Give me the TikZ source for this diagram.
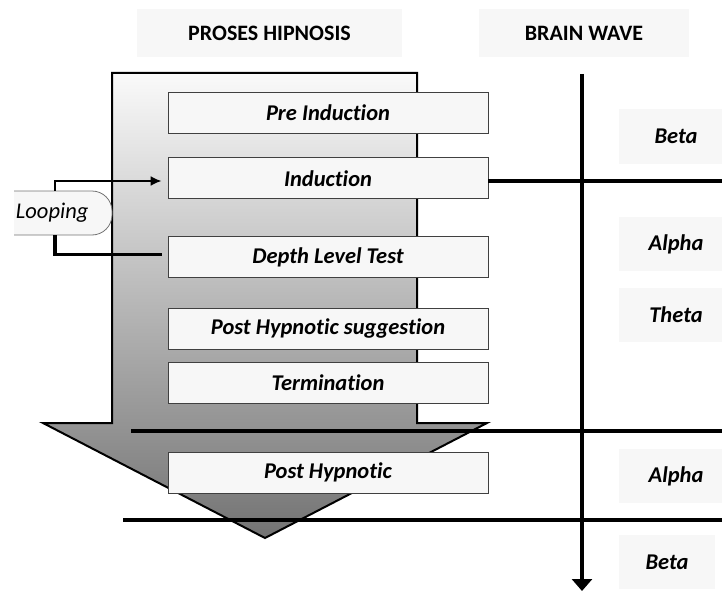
\documentclass[tikz,border=0pt]{standalone}
\usepackage{fontspec}
\setmainfont{Carlito}[Ligatures=NoCommon]
\usetikzlibrary{arrows.meta,positioning}

\begin{document}
\begin{tikzpicture}[
  x=1pt, y=-1pt,
  headbox/.style={rectangle, fill=black!3, minimum height=48pt, inner sep=0pt,
              font=\fontsize{22}{26}\selectfont\bfseries},
  stagebox/.style={rectangle, draw=black!75, line width=0.8pt, fill=black!3,
              minimum width=320pt, minimum height=41pt, inner sep=0pt,
              font=\fontsize{22.5}{26}\selectfont\bfseries\itshape},
  wavebox/.style={rectangle, fill=black!3, minimum width=114pt, minimum height=54pt,
              inner sep=0pt, font=\fontsize{22.5}{26}\selectfont\bfseries\itshape},
  looptext/.style={rectangle, minimum width=98pt, minimum height=44pt, text width=94pt,
              inner xsep=1pt, align=left, font=\fontsize{22.5}{26}\selectfont\itshape},
  loopshape/.style={fill=black!3, draw=black!55, line width=0.8pt, rounded corners=20pt},
  bigarrow/.style={top color=black!2, middle color=black!16, bottom color=black!55,
              draw=black, line width=2pt},
  sepline/.style={line width=4pt},
  arr/.style={-{Latex[length=11pt,width=10pt]}, line width=2pt}
]
\useasboundingbox (0,0) rectangle (722,591);
% headers
\node[headbox, minimum width=265pt] (hproc) at (269.5,33) {PROSES HIPNOSIS};
\node[headbox, minimum width=210pt] (hwave) at (584,33) {BRAIN WAVE};
% process arrow
\shade[bigarrow] (112,73) -- (417,73) -- (417,423) -- (487,423) -- (265,538)
  -- (43,423) -- (112,423) -- cycle;
% stages
\node[stagebox] (pre) at (328,112.5) {Pre Induction};
\node[stagebox, below=24pt of pre] (induct) {Induction};
\node[stagebox, below=37pt of induct] (depth) {Depth Level Test};
\node[stagebox, below=30pt of depth] (sugg) {Post Hypnotic suggestion};
\node[stagebox, below=12pt of sugg] (term) {Termination};
\node[stagebox, below=48pt of term] (post) {Post Hypnotic};
% brain wave axis
\coordinate (wtop) at (582,74);
\coordinate (wbot) at (582,591);
\coordinate (cut1) at (722,181);
\coordinate (cut2a) at (131,431);
\coordinate (cut2b) at (722,431);
\coordinate (cut3a) at (123,520);
\coordinate (cut3b) at (722,520);
% looping
\path[loopshape] (14,191) -- (112,191) -- (112,235) -- (14,235);
\node[looptext] (loop) at (63,213) {Looping};
\draw[arr, shorten >=6pt] ([xshift=-8pt]loop.north) |- (induct.west |- cut1);
\draw[line width=3.5pt] ([xshift=-6pt,yshift=2.5pt]depth.west) -| ([xshift=-8pt]loop.south);
\draw[sepline] (induct.east |- cut1) -- (cut1);
\draw[sepline] (cut2a) -- (cut2b);
\draw[sepline] (cut3a) -- (cut3b);
\draw[sepline, -{Triangle[length=12pt,width=20pt]}] (wtop) -- (wbot);
% waves
\node[wavebox] (beta1) at (676,136.5) {Beta};
\node[wavebox] (alpha1) at (676,244) {Alpha};
\node[wavebox] (theta) at (676,315) {Theta};
\node[wavebox] (alpha2) at (676,476) {Alpha};
\node[wavebox, minimum width=96pt] (beta2) at (667,562) {Beta};
\end{tikzpicture}
\end{document}
